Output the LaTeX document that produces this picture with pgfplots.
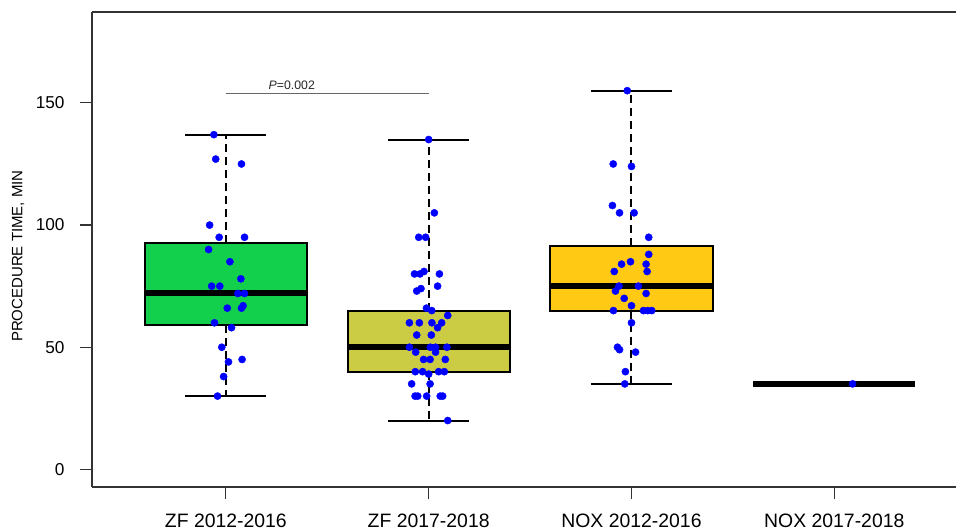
\documentclass[border=0pt]{standalone}
\usepackage{fontspec}
\setmainfont{Liberation Sans}
\usepackage{pgfplots}
\usepackage{pgfplotstable}
\pgfplotsset{compat=1.18}
\definecolor{boxgreen}{HTML}{12D04B}
\definecolor{boxolive}{HTML}{CCCC44}
\definecolor{boxgold}{HTML}{FFC914}
\definecolor{ptblue}{RGB}{0,0,255}

\pgfplotstableread{
x y
0.941 137
0.950 127
1.077 125
0.920 100
0.967 95
1.092 95
0.915 90
1.020 85
1.074 78
0.930 75
0.970 75
1.059 72
1.092 72
1.007 66
1.077 66
1.085 67
0.944 60
1.028 58
0.980 50
1.013 44
1.080 45
0.989 38
0.959 30
}\ptsA
\pgfplotstableread{
x y
2.000 135
2.028 105
1.951 95
1.985 95
1.930 80
1.957 80
1.977 81
2.053 80
1.941 73
1.962 74
2.044 75
1.989 66
2.015 65
2.094 63
1.905 60
1.954 60
2.016 60
2.064 60
2.044 58
1.941 55
2.013 55
1.905 50
2.008 50
2.034 50
2.090 50
1.936 48
2.034 48
1.975 45
2.007 45
2.082 45
1.934 40
1.970 40
2.000 39
2.049 40
2.077 40
1.916 35
2.007 35
1.933 30
1.946 30
1.990 30
2.057 30
2.069 30
2.094 20
}\ptsB
\pgfplotstableread{
x y
2.979 155
2.910 125
3.000 124
2.906 108
2.941 105
3.013 105
3.085 95
3.085 88
2.951 84
2.995 85
3.072 84
2.915 81
3.077 81
2.938 75
3.034 75
2.921 73
3.072 72
2.964 70
3.000 67
2.911 65
3.059 65
3.080 65
3.100 65
3.000 60
2.931 50
2.941 49
3.020 48
2.970 40
2.967 35
}\ptsC
\pgfplotstableread{
x y
4.090 35
}\ptsD

\begin{document}
\begin{tikzpicture}
\begin{axis}[
  scale only axis, width=864pt, height=475pt,
  xmin=0.34, xmax=4.6, ymin=-7.2, ymax=187.2,
  axis x line*=bottom, axis y line*=left,
  axis line style={black!80, line width=1.2pt},
  xtick={1,2,3,4},
  xticklabels={ZF 2012-2016, ZF 2017-2018, NOX 2012-2016, NOX 2017-2018},
  ytick={0,50,100,150},
  tick align=outside, major tick length=12pt,
  tick style={black!80, line width=1.2pt},
  /pgf/number format/assume math mode=true,
  xticklabel style={font=\fontsize{19.4}{22}\selectfont, yshift=-11pt},
  yticklabel style={font=\fontsize{17.2}{20}\selectfont, xshift=-12pt},
  ylabel={PROCEDURE TIME, MIN},
  every axis y label/.style={at={(rel axis cs:0,0.486)}, xshift=-74pt, rotate=90, anchor=center, font=\fontsize{15}{18}\selectfont},
  clip=false,
  whisk/.style={black, line width=2pt, dash pattern=on 8pt off 5pt},
  cap/.style={black, line width=2pt},
  med/.style={black, line width=6pt},
  boxst/.style={draw=black, line width=2pt},
  dots/.style={only marks, mark=*, mark size=3.6pt, color=ptblue, mark options={draw=ptblue, fill=ptblue}},
]
\draw[black!80, line width=1.2pt] (rel axis cs:0,1) -- (rel axis cs:1,1);

% ZF 2012-2016
\addplot[whisk] coordinates {(1,92.5) (1,137)};
\addplot[whisk] coordinates {(1,59) (1,30)};
\addplot[cap] coordinates {(0.8,137) (1.2,137)};
\addplot[cap] coordinates {(0.8,30) (1.2,30)};
\addplot[boxst, fill=boxgreen] coordinates {(0.6,59) (1.4,59) (1.4,92.5) (0.6,92.5)} -- cycle;
\addplot[med] coordinates {(0.6,72) (1.4,72)};

% ZF 2017-2018
\addplot[whisk] coordinates {(2,65) (2,135)};
\addplot[whisk] coordinates {(2,40) (2,20)};
\addplot[cap] coordinates {(1.8,135) (2.2,135)};
\addplot[cap] coordinates {(1.8,20) (2.2,20)};
\addplot[boxst, fill=boxolive] coordinates {(1.6,40) (2.4,40) (2.4,65) (1.6,65)} -- cycle;
\addplot[med] coordinates {(1.6,50) (2.4,50)};

% NOX 2012-2016
\addplot[whisk] coordinates {(3,91.5) (3,155)};
\addplot[whisk] coordinates {(3,65) (3,35)};
\addplot[cap] coordinates {(2.8,155) (3.2,155)};
\addplot[cap] coordinates {(2.8,35) (3.2,35)};
\addplot[boxst, fill=boxgold] coordinates {(2.6,65) (3.4,65) (3.4,91.5) (2.6,91.5)} -- cycle;
\addplot[med] coordinates {(2.6,75) (3.4,75)};

% NOX 2017-2018
\addplot[med] coordinates {(3.6,35) (4.4,35)};

\addplot[dots] table[x=x,y=y] {\ptsA};
\addplot[dots] table[x=x,y=y] {\ptsB};
\addplot[dots] table[x=x,y=y] {\ptsC};
\addplot[dots] table[x=x,y=y] {\ptsD};

\draw[black!60, line width=0.9pt] (axis cs:1,154) -- (axis cs:2,154);
\node[font=\fontsize{12.3}{14}\selectfont, black!85, anchor=base] at (axis cs:1.325,155.5) {\textit{P}=0.002};
\end{axis}
\pgfresetboundingbox
\path ([shift={(-92pt,-43pt)}]current axis.south west) rectangle ([shift={(0pt,12pt)}]current axis.north east);
\end{tikzpicture}
\end{document}
